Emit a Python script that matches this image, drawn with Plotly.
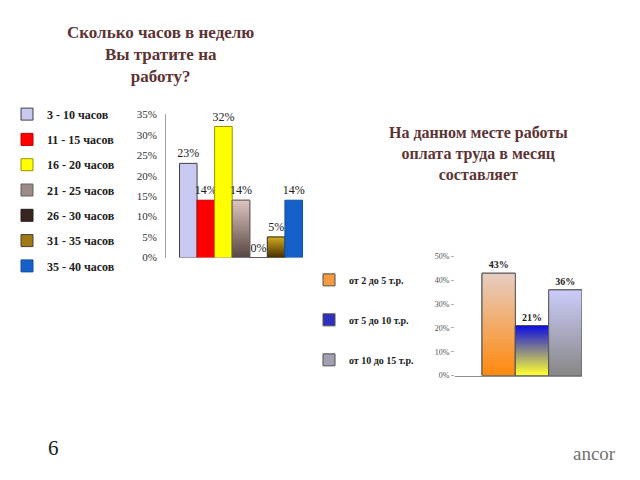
import plotly.graph_objects as go

W, H = 640, 480

# ---- data ----
hours_cats = ["3 - 10 часов", "11 - 15 часов", "16 - 20 часов", "21 - 25 часов",
              "26 - 30 часов", "31 - 35 часов", "35 - 40 часов"]
hours_vals = [23, 14, 32, 14, 0, 5, 14]
hours_ticks = [0, 5, 10, 15, 20, 25, 30, 35]

pay_cats = ["от 2 до 5 т.р.", "от 5 до 10 т.р.", "от 10 до 15 т.р."]
pay_vals = [43, 21, 36]
pay_ticks = [0, 10, 20, 30, 40, 50]

title1 = "Сколько часов в неделю<br>Вы тратите на<br>работу?"
title2 = "На данном месте работы<br>оплата труда в месяц<br>составляет"

# ---- styles: (legend/solid colour, gradient top, gradient bottom, outline) ----
hours_styles = [
    ("#C8C8F0", None, None, "#404040"),
    ("#FF0000", None, None, "#C00000"),
    ("#FFFF00", None, None, "#A09000"),
    ("#9C8C88", "#DCC4BC", "#5A4844", "#606060"),
    ("#3A2420", None, None, "#202020"),
    ("#A07A10", "#D0A820", "#4A3000", "#404040"),
    ("#1560C8", None, None, "#1050A0"),
]
pay_styles = [
    ("#F59A40", "#E6CCC0", "#FF8A10", "#505050"),
    ("#3030C0", "#1010E0", "#FFFF30", "#505050"),
    ("#A0A0B0", "#CACAF8", "#888888", "#505050"),
]


def hex2rgb(h):
    h = h.lstrip("#")
    return tuple(int(h[i:i + 2], 16) for i in (0, 2, 4))


def mix(c1, c2, t):
    a, b = hex2rgb(c1), hex2rgb(c2)
    return "rgb(%d,%d,%d)" % tuple(round(a[k] + (b[k] - a[k]) * t) for k in range(3))


serif = "Liberation Serif, Times New Roman, DejaVu Serif, serif"

fig = go.Figure()
N = 30


def add_bars(cats, vals, styles, xa, ya, legend, fsize, bold):
    for i, (c, v, st) in enumerate(zip(cats, vals, styles)):
        solid, top, bot, line = st
        grp = legend + "_" + str(i)
        txt = ("<b>%d%%</b>" if bold else "%d%%") % v
        fig.add_trace(go.Bar(
            x=[0], y=[v], name=c, offsetgroup=str(i), legendgroup=grp,
            legend=legend, xaxis=xa, yaxis=ya,
            marker=dict(color=solid, line=dict(color=line, width=1)),
            text=[txt], textposition="outside", cliponaxis=False,
            constraintext="none",
            textfont=dict(family=serif, size=fsize, color="#202020"),
            hoverinfo="skip"))
        if top is not None and v > 0:
            for k in range(N):
                b = v * k / N
                fig.add_trace(go.Bar(
                    x=[0], y=[v - b], base=[b], offsetgroup=str(i), legendgroup=grp,
                    showlegend=False, xaxis=xa, yaxis=ya,
                    marker=dict(color=mix(bot, top, k / (N - 1)), line=dict(width=0)),
                    hoverinfo="skip"))
            fig.add_trace(go.Bar(
                x=[0], y=[v], offsetgroup=str(i), legendgroup=grp, showlegend=False,
                xaxis=xa, yaxis=ya,
                marker=dict(color="rgba(0,0,0,0)", line=dict(color=line, width=1)),
                hoverinfo="skip"))


add_bars(hours_cats, hours_vals, hours_styles, "x", "y", "legend", 12, False)
add_bars(pay_cats, pay_vals, pay_styles, "x2", "y2", "legend2", 10, True)

fig.update_layout(
    width=W, height=H, margin=dict(l=0, r=0, t=0, b=0),
    paper_bgcolor="white", plot_bgcolor="rgba(0,0,0,0)",
    barmode="group", bargap=0.18, bargroupgap=0,
    showlegend=True,
    xaxis=dict(domain=[166 / W, 316 / W], range=[-0.5, 0.5], visible=False,
               anchor="y"),
    yaxis=dict(domain=[1 - 258 / H, 1 - 111 / H], range=[0, 35],
               tickvals=hours_ticks, ticktext=["%d%%" % t for t in hours_ticks],
               showgrid=False, zeroline=False, showline=True, linecolor="#A0A0A0",
               linewidth=1, ticks="", ticklabelstandoff=6,
               tickfont=dict(family=serif, size=11, color="#303030"), anchor="x"),
    xaxis2=dict(domain=[455 / W, 582 / W], range=[-0.6314, 0.41], showticklabels=False,
                showgrid=False, zeroline=False, showline=True, linecolor="#909090",
                linewidth=1, ticks="", anchor="y2"),
    yaxis2=dict(domain=[1 - 379 / H, 1 - 257 / H], range=[0, 50],
                tickvals=pay_ticks, ticktext=["%d%%" % t for t in pay_ticks],
                showgrid=False, zeroline=False, showline=False,
                ticks="outside", ticklen=3, tickcolor="#B0B0B0",
                tickfont=dict(family=serif, size=8, color="#505050"), anchor="x2"),
    legend=dict(x=7 / W, y=1 - 96 / H, xanchor="left", yanchor="top",
                bgcolor="rgba(0,0,0,0)", tracegroupgap=6.3, itemclick=False,
                font=dict(family=serif, size=12, color="#202020", weight="bold")),
    legend2=dict(x=309 / W, y=1 - 266 / H, xanchor="left", yanchor="top",
                 bgcolor="rgba(0,0,0,0)", tracegroupgap=21, itemclick=False,
                 font=dict(family=serif, size=10, color="#202020", weight="bold")),
)

title_color = "#5C3434"
fig.add_annotation(text=title1, x=160 / W, y=1 - 15 / H, xref="paper", yref="paper",
                   xanchor="center", yanchor="top", showarrow=False, align="center",
                   font=dict(family=serif, size=17, color=title_color, weight="bold"))
fig.add_annotation(text=title2, x=478 / W, y=1 - 119 / H, xref="paper", yref="paper",
                   xanchor="center", yanchor="top", showarrow=False, align="center",
                   font=dict(family=serif, size=16, color=title_color, weight="bold"))
fig.add_annotation(text="6", x=46 / W, y=1 - 453 / H, xref="paper", yref="paper",
                   xanchor="left", yanchor="middle", showarrow=False,
                   font=dict(family=serif, size=21, color="#202020"))
fig.add_annotation(text="ancor", x=618 / W, y=1 - 459 / H, xref="paper", yref="paper",
                   xanchor="right", yanchor="middle", showarrow=False,
                   font=dict(family=serif, size=19, color="#707070"))

fig.write_html("out.html")
